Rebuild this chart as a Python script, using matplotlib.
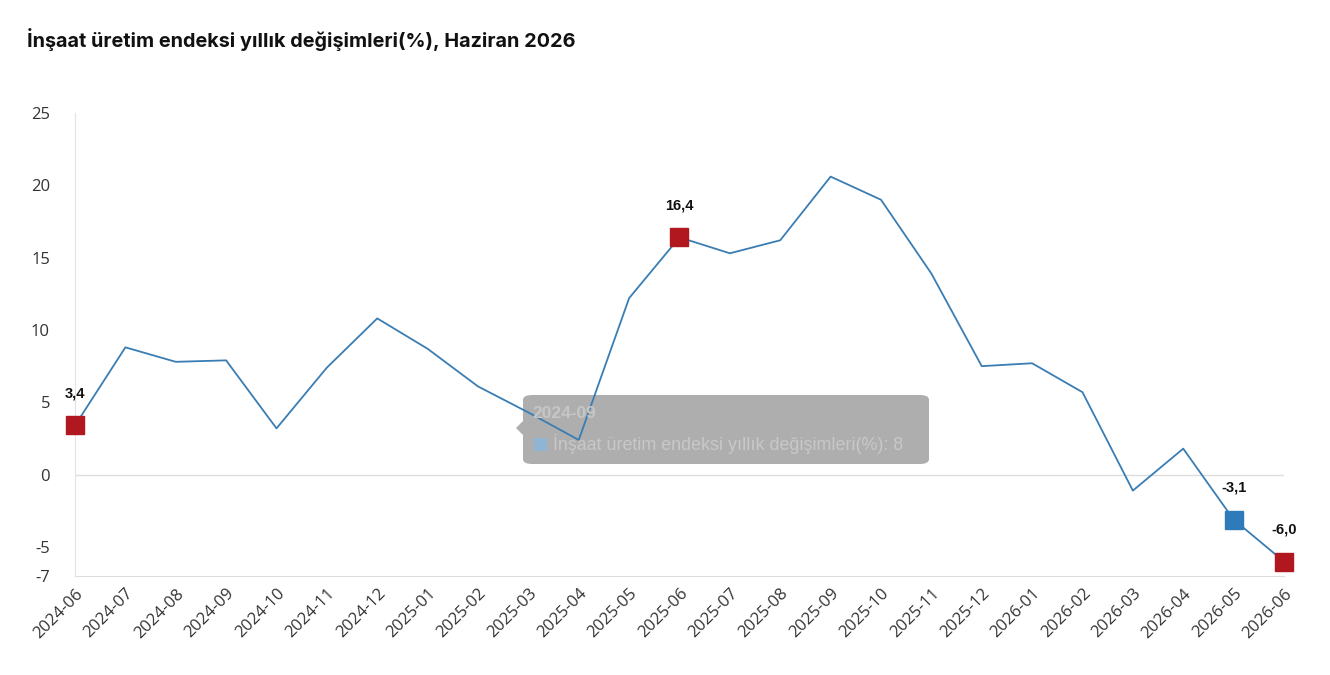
import matplotlib.pyplot as plt
from matplotlib.patches import FancyBboxPatch, Rectangle, Polygon

months = ['2024-06', '2024-07', '2024-08', '2024-09', '2024-10', '2024-11', '2024-12',
          '2025-01', '2025-02', '2025-03', '2025-04', '2025-05', '2025-06', '2025-07',
          '2025-08', '2025-09', '2025-10', '2025-11', '2025-12', '2026-01', '2026-02',
          '2026-03', '2026-04', '2026-05', '2026-06']
values = [3.4, 8.8, 7.8, 7.9, 3.2, 7.4, 10.8, 8.7, 6.1, 4.3, 2.4, 12.2, 16.4, 15.3,
          16.2, 20.6, 19.0, 13.9, 7.5, 7.7, 5.7, -1.1, 1.8, -3.1, -6.0]
red_idx = [0, 12, 24]
blue_idx = [23]
yticks = [25, 20, 15, 10, 5, 0, -5, -7]

title = 'İnşaat üretim endeksi yıllık değişimleri(%), Haziran 2026'
tip_title = '2024-09'
tip_text = 'İnşaat üretim endeksi yıllık değişimleri(%): 8'

plt.rcParams['font.family'] = ['Open Sans', 'DejaVu Sans']

fig = plt.figure(figsize=(13.3, 6.75), dpi=100)
ax = fig.add_axes([0.0564, 0.1467, 0.909, 0.686])

x = list(range(len(months)))
ax.plot(x, values, color='#3a7db3', lw=1.3, zorder=3)

for i in red_idx:
    ax.plot(i, values[i], 's', ms=13, color='#b0171f', zorder=4, clip_on=False)
for i in blue_idx:
    ax.plot(i, values[i], 's', ms=13, color='#2f7bb9', zorder=4, clip_on=False)
for i in red_idx + blue_idx:
    ax.annotate(f'{values[i]:.1f}'.replace('.', ','), (i, values[i]),
                xytext=(0, 18), textcoords='offset points', ha='center', va='bottom',
                fontsize=10.5, fontweight='bold', color='#111111',
                family=['Liberation Sans', 'DejaVu Sans'])

ax.set_xlim(0, len(months) - 1)
ax.set_ylim(-7, 25)
ax.set_yticks(yticks)
ax.set_yticklabels([str(t) for t in yticks])
ax.set_xticks(x)
ax.set_xticklabels(months, rotation=45, ha='right', rotation_mode='anchor')
ax.tick_params(axis='both', length=0, labelsize=12, labelcolor='#333333')
ax.tick_params(axis='y', pad=18)
ax.tick_params(axis='x', pad=7)
ax.axhline(0, color='#dddddd', lw=1, zorder=1)
for s in ['top', 'right']:
    ax.spines[s].set_visible(False)
ax.spines['left'].set_color('#e3e3e3')
ax.spines['bottom'].set_color('#dddddd')

# hover tooltip left on the page
tip = FancyBboxPatch((523 / 1330, 1 - 464 / 675), 406 / 1330, 69 / 675,
                     boxstyle='round,pad=0,rounding_size=0.007', transform=fig.transFigure,
                     facecolor='#aaaaaa', edgecolor='none', alpha=0.95, zorder=2)
tip.set_clip_on(False)
ax.add_artist(tip)
arrow = Polygon([(523 / 1330, 1 - 421 / 675), (516 / 1330, 1 - 428 / 675),
                 (523 / 1330, 1 - 435 / 675)], closed=True, transform=fig.transFigure,
                facecolor='#aaaaaa', edgecolor='none', alpha=0.95, zorder=2)
arrow.set_clip_on(False)
ax.add_artist(arrow)
fig.text(532 / 1330, 1 - 413 / 675, tip_title, fontsize=12.5, fontweight='bold',
         color='#c6c6c6', va='center', family=['Liberation Sans', 'DejaVu Sans'])
fig.patches.append(Rectangle((534 / 1330, 1 - 451 / 675), 13 / 1330, 13 / 675,
                             transform=fig.transFigure, facecolor='#8fb4d4',
                             edgecolor='none', zorder=2))
fig.text(553 / 1330, 1 - 444 / 675, tip_text, fontsize=12.9, color='#c8c8c8',
         va='center', family=['Liberation Sans', 'DejaVu Sans'])

fig.text(27 / 1330, 1 - 40 / 675, title, fontsize=14.3, fontweight='bold',
         color='#111111', va='center', family=['Inter', 'DejaVu Sans'])

fig.savefig('out.png', dpi=100)
